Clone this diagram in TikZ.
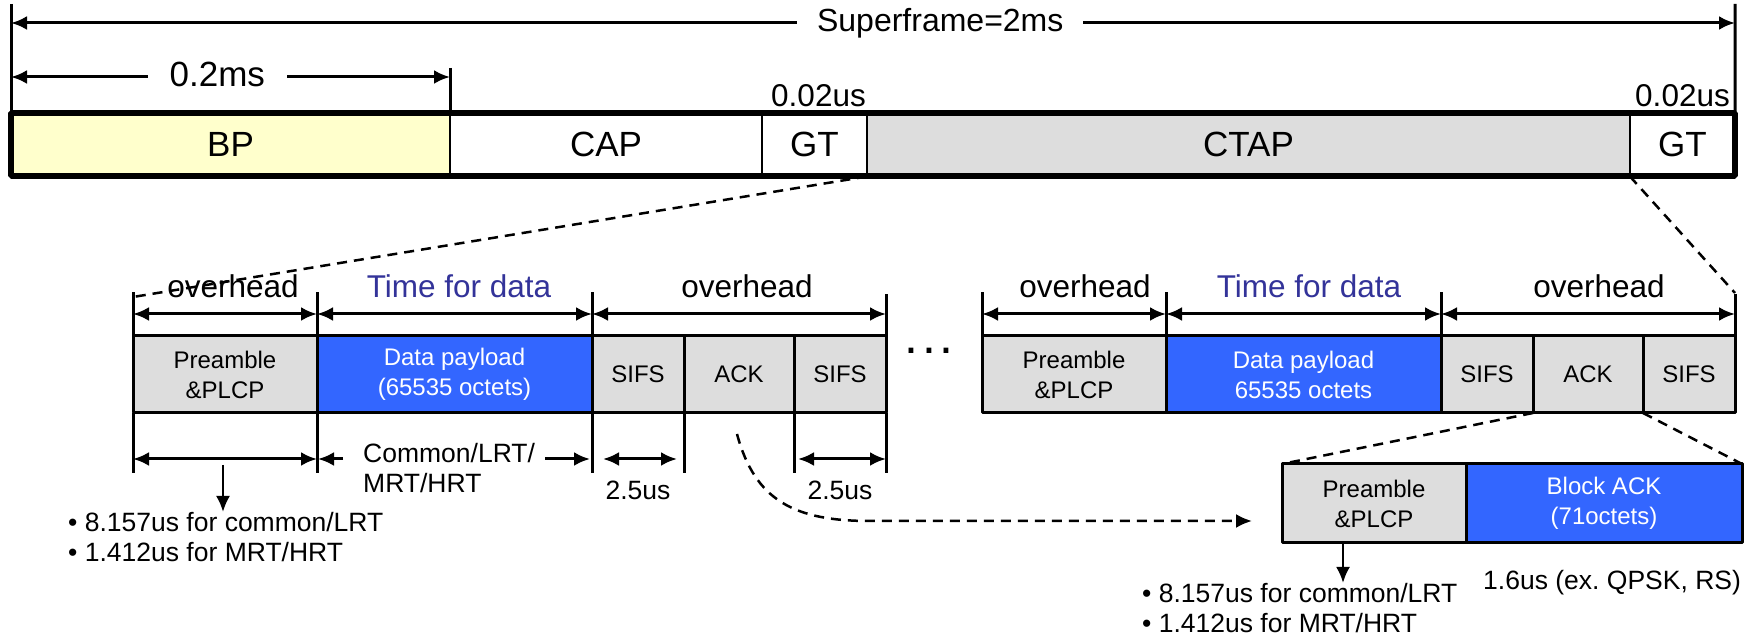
\documentclass[tikz,border=0pt]{standalone}
\usepackage{fontspec}
\setmainfont{Liberation Sans}
\usetikzlibrary{arrows.meta,positioning}
\definecolor{bpyellow}{HTML}{FFFFCC}
\definecolor{slotgray}{HTML}{DDDDDD}
\definecolor{payblue}{HTML}{3366FF}
\definecolor{labelblue}{HTML}{333399}
\frenchspacing
\begin{document}
\begin{tikzpicture}[>={Latex[length=16bp,width=14bp]},line join=bevel,
  seg/.style={draw,line width=2bp,minimum height=63.5bp,inner sep=0pt,outer sep=0pt,font=\fontsize{35bp}{40bp}\selectfont},
  cell/.style={draw,line width=3bp,minimum height=77bp,inner sep=0pt,outer sep=0pt,align=center,font=\fontsize{24bp}{30bp}\selectfont},
  tick/.style={line width=3bp},
  dim/.style={<->,line width=3bp},
  zoomline/.style={line width=2.5bp,dash pattern=on 10bp off 7bp},
  toplabel/.style={inner sep=0pt,font=\fontsize{31.5bp}{36bp}\selectfont},
  note/.style={inner sep=0pt,align=left,font=\fontsize{26.5bp}{30bp}\selectfont}]
  \useasboundingbox (0,0) rectangle (1754bp,636bp);
%%
  % Node: superframe slots
  \node[seg,fill=bpyellow,minimum width=439bp,anchor=south west] (BP) at (11bp,459.5bp) {BP};
  \node[seg,minimum width=312bp,right=0bp of BP] (CAP) {CAP};
  \node[seg,minimum width=105bp,right=0bp of CAP] (GTa) {GT};
  \node[seg,fill=slotgray,minimum width=763bp,right=0bp of GTa] (CTAP) {CTAP};
  \node[seg,minimum width=105bp,right=0bp of CTAP] (GTb) {GT};
  \draw[line width=6bp] (BP.south west) rectangle (GTb.north east);
  \node[toplabel,above=6bp of GTa,xshift=4bp] (gtaDur) {0.02us};
  \node[toplabel,above=6bp of GTb] (gtbDur) {0.02us};
  % Edge: superframe length
  \coordinate (sfL) at (11bp,613bp);
  \coordinate (sfR) at (1735bp,613bp);
  \draw[tick] ([yshift=19bp]sfL) -- (BP.north west);
  \draw[tick] ([yshift=19bp]sfR) -- (GTb.north east);
  \draw[dim] (sfL) -- (sfR) node[pos=0.539,fill=white,inner xsep=20bp,inner ysep=2bp,font=\fontsize{32bp}{36bp}\selectfont] (sf) {Superframe=2ms};
  % Edge: BP length
  \coordinate (bpL) at (11bp,559bp);
  \coordinate (bpR) at (BP.north east |- bpL);
  \draw[tick] ([yshift=9bp]bpR) -- (BP.north east);
  \draw[dim] (bpL) -- (bpR) node[pos=0.47,yshift=3bp,fill=white,inner xsep=22bp,inner ysep=2bp,font=\fontsize{35bp}{40bp}\selectfont] (bpDur) {0.2ms};
%%
  % Node: first frame
  \node[cell,fill=slotgray,minimum width=184bp,anchor=north west] (preL) at (133bp,300bp) {Preamble\\\&PLCP};
  \node[cell,fill=payblue,text=white,minimum width=275bp,right=0bp of preL] (dataL) {Data payload\\(65535 octets)};
  \node[cell,fill=slotgray,minimum width=92bp,right=0bp of dataL] (sifsL1) {SIFS};
  \node[cell,fill=slotgray,minimum width=110bp,right=0bp of sifsL1] (ackL) {ACK};
  \node[cell,fill=slotgray,minimum width=92bp,right=0bp of ackL] (sifsL2) {SIFS};
  % Edge: first frame, top
  \draw[tick] (preL.north west) -- ++(0,44bp);
  \draw[tick] (dataL.north west) -- ++(0,44bp);
  \draw[tick] (sifsL1.north west) -- ++(0,44bp);
  \draw[tick] (sifsL2.north east) -- ++(0,42bp);
  \draw[dim] ([yshift=22bp]preL.north west) -- ([yshift=22bp]preL.north east);
  \draw[dim] ([yshift=22bp]dataL.north west) -- ([yshift=22bp]dataL.north east);
  \draw[dim] ([yshift=22bp]sifsL1.north west) -- ([yshift=22bp]sifsL2.north east);
  \node[toplabel] (ohL1) at ([xshift=100bp,yshift=50bp]preL.north west) {overhead};
  \node[toplabel,text=labelblue] (tfdL) at ([xshift=142bp,yshift=50bp]dataL.north west) {Time for data};
  \node[toplabel] (ohL2) at ([xshift=155bp,yshift=50bp]sifsL1.north west) {overhead};
  % Edge: first frame, bottom
  \draw[tick] (preL.south west) -- ++(0,-60bp);
  \draw[tick] (preL.south east) -- ++(0,-60bp);
  \draw[tick] (dataL.south east) -- ++(0,-60bp);
  \draw[tick] (sifsL1.south east) -- ++(0,-60bp);
  \draw[tick] (ackL.south east) -- ++(0,-60bp);
  \draw[tick] (sifsL2.south east) -- ++(0,-60bp);
  \draw[dim] ([yshift=-46bp]preL.south west) -- ([yshift=-46bp]preL.south east);
  \draw[->,tick] ([xshift=26bp,yshift=-46bp]dataL.south west) -- ([xshift=1bp,yshift=-46bp]dataL.south west);
  \draw[->,tick] ([xshift=-47bp,yshift=-46bp]dataL.south east) -- ([xshift=-2bp,yshift=-46bp]dataL.south east);
  \node[note,anchor=west] (cmnL) at ([xshift=46bp,yshift=-55bp]dataL.south west) {Common/LRT/\\MRT/HRT};
  \draw[dim] ([xshift=11bp,yshift=-46bp]sifsL1.south west) -- ([xshift=-7bp,yshift=-46bp]sifsL1.south east);
  \draw[dim] ([xshift=4bp,yshift=-46bp]sifsL2.south west) -- ([yshift=-46bp]sifsL2.south east);
  \node[note] (sifsDurL1) at ([yshift=-77bp]sifsL1.south) {2.5us};
  \node[note] (sifsDurL2) at ([yshift=-77bp]sifsL2.south) {2.5us};
  \node[note,anchor=north west] (bulletsL) at (68bp,124bp) {\textbullet\ 8.157us for common/LRT\\\textbullet\ 1.412us for MRT/HRT};
  \draw[->,line width=2.5bp] ([xshift=-2bp,yshift=-52bp]preL.south) -- ([xshift=-2bp]preL.south |- bulletsL.north);
  % Node: more frames
  \node[anchor=base,inner sep=0pt,font=\fontsize{50bp}{50bp}\selectfont] (dots) at (929bp,282bp) {.\kern4bp.\kern4bp.};
%%
  % Node: last frame
  \node[cell,fill=slotgray,minimum width=184bp,anchor=north west] (preR) at (982bp,300bp) {Preamble\\\&PLCP};
  \node[cell,fill=payblue,text=white,minimum width=275bp,right=0bp of preR] (dataR) {Data payload\\65535 octets};
  \node[cell,fill=slotgray,minimum width=92bp,right=0bp of dataR] (sifsR1) {SIFS};
  \node[cell,fill=slotgray,minimum width=110bp,right=0bp of sifsR1] (ackR) {ACK};
  \node[cell,fill=slotgray,minimum width=92bp,right=0bp of ackR] (sifsR2) {SIFS};
  % Edge: last frame, top
  \draw[tick] (preR.north west) -- ++(0,44bp);
  \draw[tick] (dataR.north west) -- ++(0,44bp);
  \draw[tick] (sifsR1.north west) -- ++(0,44bp);
  \draw[tick] (sifsR2.north east) -- ++(0,42bp);
  \draw[dim] ([yshift=22bp]preR.north west) -- ([yshift=22bp]preR.north east);
  \draw[dim] ([yshift=22bp]dataR.north west) -- ([yshift=22bp]dataR.north east);
  \draw[dim] ([yshift=22bp]sifsR1.north west) -- ([yshift=22bp]sifsR2.north east);
  \node[toplabel] (ohR1) at ([xshift=103bp,yshift=50bp]preR.north west) {overhead};
  \node[toplabel,text=labelblue] (tfdR) at ([xshift=143bp,yshift=50bp]dataR.north west) {Time for data};
  \node[toplabel] (ohR2) at ([xshift=158bp,yshift=50bp]sifsR1.north west) {overhead};
%%
  % Node: block ACK
  \node[cell,fill=slotgray,minimum width=184bp,minimum height=79bp,anchor=north west] (preB) at (1282bp,172bp) {Preamble\\\&PLCP};
  \node[cell,fill=payblue,text=white,minimum width=276bp,minimum height=79bp,right=0bp of preB] (blockAck) {Block ACK\\(71octets)};
  \node[note,anchor=north west] (bulletsB) at (1142bp,53bp) {\textbullet\ 8.157us for common/LRT\\\textbullet\ 1.412us for MRT/HRT};
  \draw[->,line width=2.5bp] ([xshift=-31bp]preB.south) -- ([xshift=-31bp]preB.south |- bulletsB.north);
  \node[note,anchor=west] (ackDur) at (1483bp,53bp) {1.6us (ex. QPSK, RS)};
%%
  % Edge: zoom lines
  \draw[zoomline] (GTa.south east) -- ([yshift=39bp]preL.north west);
  \draw[zoomline] (CTAP.south east) -- ([yshift=43bp]sifsR2.north east);
  \draw[zoomline] (ackR.south west) -- (preB.north west);
  \draw[zoomline] (ackR.south east) -- (blockAck.north east);
  \draw[zoomline,->] ([xshift=-2bp,yshift=-21bp]ackL.south) .. controls (755bp,135bp) and (795bp,115bp) .. (870bp,115bp) -- ([xshift=-30bp,yshift=-17.5bp]preB.west);
%
\end{tikzpicture}
\end{document}
